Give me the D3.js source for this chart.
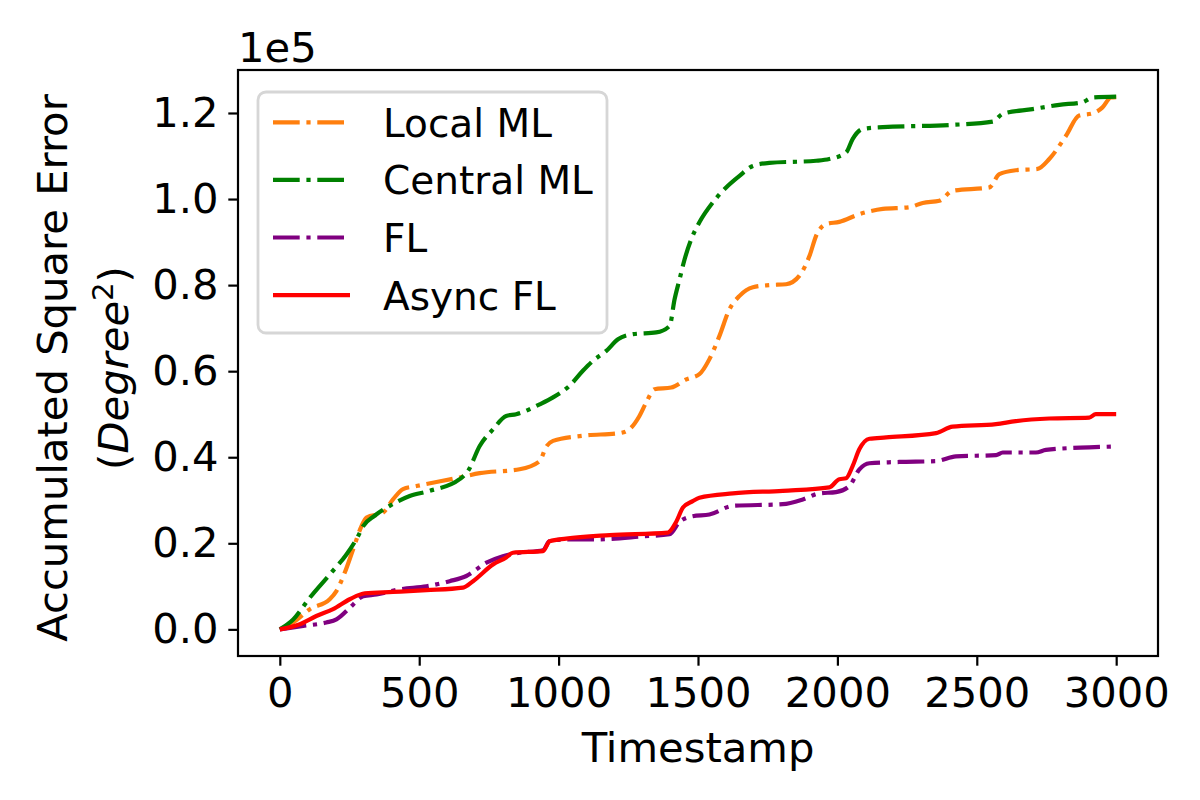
<!DOCTYPE html>
<html>
<head>
<meta charset="utf-8">
<script src="https://cdn.jsdelivr.net/npm/d3@7"></script>
<style>
  body { margin: 0; background: #fff; }
  text { font-family: "DejaVu Sans", sans-serif; }
</style>
</head>
<body>
<div id="chart"></div>
<script>
// legend order
const seriesNames = ["Local ML", "Central ML", "FL", "Async FL"];

// [timestamp, accumulated error in units of 1e5]
const localML = [[0,0],[48,0.016],[108,0.047],[179,0.07],[203,0.089],[233,0.132],[263,0.186],[293,0.24],[311,0.26],[370,0.271],[406,0.302],[442,0.326],[490,0.333],[645,0.353],[717,0.363],[860,0.372],[932,0.391],[956,0.425],[980,0.438],[1087,0.45],[1219,0.456],[1254,0.465],[1290,0.496],[1314,0.527],[1344,0.558],[1404,0.562],[1458,0.581],[1505,0.593],[1541,0.628],[1577,0.682],[1613,0.744],[1649,0.775],[1697,0.795],[1756,0.8],[1816,0.802],[1864,0.822],[1900,0.868],[1924,0.915],[1960,0.942],[2007,0.947],[2079,0.965],[2163,0.977],[2258,0.981],[2306,0.991],[2366,0.996],[2413,1.019],[2545,1.027],[2581,1.058],[2640,1.067],[2718,1.07],[2760,1.093],[2820,1.147],[2867,1.194],[2915,1.199],[2951,1.213],[2981,1.236],[3000,1.237]];

const centralML = [[0,0],[48,0.023],[108,0.074],[185,0.132],[239,0.174],[281,0.217],[299,0.24],[340,0.264],[394,0.287],[466,0.31],[538,0.322],[645,0.349],[675,0.368],[717,0.426],[765,0.465],[812,0.496],[848,0.5],[932,0.523],[980,0.539],[1039,0.566],[1087,0.601],[1123,0.624],[1171,0.647],[1213,0.674],[1267,0.686],[1350,0.69],[1398,0.705],[1416,0.767],[1434,0.814],[1452,0.86],[1476,0.907],[1505,0.946],[1553,0.992],[1601,1.027],[1649,1.054],[1697,1.077],[1756,1.084],[1924,1.089],[1971,1.093],[2031,1.108],[2055,1.14],[2091,1.163],[2163,1.167],[2401,1.172],[2557,1.18],[2593,1.198],[2700,1.209],[2796,1.219],[2879,1.225],[2915,1.236],[3000,1.238]];

const fl = [[0,0],[84,0.008],[167,0.016],[203,0.023],[251,0.05],[299,0.077],[347,0.081],[430,0.093],[526,0.1],[609,0.112],[669,0.124],[741,0.155],[800,0.17],[860,0.178],[944,0.184],[968,0.205],[1027,0.209],[1123,0.209],[1302,0.216],[1398,0.221],[1434,0.25],[1481,0.263],[1541,0.267],[1625,0.287],[1804,0.291],[1876,0.302],[1935,0.316],[1995,0.319],[2043,0.333],[2079,0.372],[2115,0.386],[2222,0.389],[2354,0.391],[2425,0.402],[2569,0.405],[2593,0.411],[2712,0.411],[2748,0.417],[2903,0.423],[3000,0.425]];

const asyncFL = [[0,0],[72,0.012],[131,0.031],[191,0.047],[251,0.07],[305,0.084],[406,0.087],[526,0.091],[657,0.097],[693,0.112],[765,0.151],[812,0.167],[836,0.178],[944,0.182],[968,0.205],[1027,0.211],[1183,0.219],[1392,0.225],[1422,0.25],[1446,0.283],[1481,0.298],[1505,0.306],[1625,0.316],[1804,0.322],[1971,0.33],[2007,0.349],[2031,0.351],[2055,0.38],[2079,0.419],[2115,0.443],[2175,0.446],[2354,0.456],[2413,0.471],[2569,0.477],[2640,0.484],[2760,0.49],[2903,0.492],[2927,0.5],[3000,0.5]];

const xTicks = [0, 500, 1000, 1500, 2000, 2500, 3000];
const yTicks = [0, 0.2, 0.4, 0.6, 0.8, 1.0, 1.2];

// styling per series (same order as seriesNames)
const seriesData = [localML, centralML, fl, asyncFL];
const colors = ["#ff7f0e", "#008000", "#800080", "#ff0000"];
const dashes = ["26.7,6.7,4.2,6.7", "26.7,6.7,4.2,6.7", "26.7,6.7,4.2,6.7", null];

const width = 1200,
  height = 800,
  fontSize = 41.7,
  legendFont = 39;

const svg = d3.select("#chart").append("svg").attr("width", width).attr("height", height);
svg.append("rect").attr("width", width).attr("height", height).attr("fill", "#fff");

// matplotlib-like 5% margins around the data
const x = d3.scaleLinear().domain([-150, 3150]).range([238, 1158]);
const y = d3.scaleLinear().domain([-0.0619, 1.2999]).range([656, 70]);

const line = d3
  .line()
  .x(d => x(d[0]))
  .y(d => y(d[1]))
  .curve(d3.curveMonotoneX);

svg
  .append("g")
  .selectAll("path")
  .data(seriesData)
  .join("path")
  .attr("d", line)
  .attr("fill", "none")
  .attr("stroke", (d, i) => colors[i])
  .attr("stroke-width", 4.2)
  .attr("stroke-dasharray", (d, i) => dashes[i])
  .attr("stroke-linejoin", "round");

// axes
const xAxis = svg
  .append("g")
  .attr("transform", `translate(0,656)`)
  .call(d3.axisBottom(x).tickValues(xTicks).tickFormat(d3.format("d")).tickSize(9.7).tickPadding(11.5));

const yAxis = svg
  .append("g")
  .attr("transform", `translate(238,0)`)
  .call(d3.axisLeft(y).tickValues(yTicks).tickFormat(d3.format(".1f")).tickSize(9.7).tickPadding(9.7));

[xAxis, yAxis].forEach(g => {
  g.select(".domain").remove();
  g.selectAll(".tick line").attr("stroke", "#000").attr("stroke-width", 2.2);
  g.selectAll(".tick text")
    .attr("fill", "#000")
    .style("font-family", "DejaVu Sans")
    .style("font-size", fontSize + "px");
});

// frame
svg
  .append("rect")
  .attr("x", 238)
  .attr("y", 70)
  .attr("width", 920)
  .attr("height", 586)
  .attr("fill", "none")
  .attr("stroke", "#000")
  .attr("stroke-width", 2.2);

// offset text
svg.append("text").attr("x", 238).attr("y", 62).attr("font-size", fontSize).text("1e5");

// axis labels
svg
  .append("text")
  .attr("x", 698)
  .attr("y", 762)
  .attr("text-anchor", "middle")
  .attr("font-size", fontSize)
  .text("Timestamp");

const yLabel = svg
  .append("text")
  .attr("transform", "translate(0,368) rotate(-90)")
  .attr("text-anchor", "middle")
  .attr("font-size", fontSize);
yLabel.append("tspan").attr("x", 0).attr("y", 67).text("Accumulated Square Error");
const l2 = yLabel.append("tspan").attr("x", 0).attr("y", 128);
l2.append("tspan").text("(");
l2.append("tspan").attr("font-style", "italic").text("Degree");
l2.append("tspan").attr("font-size", fontSize * 0.7).attr("dy", -15).text("2");
l2.append("tspan").attr("dy", 15).text(")");

// legend
const legend = svg.append("g");
legend
  .append("rect")
  .attr("x", 258)
  .attr("y", 92)
  .attr("width", 349)
  .attr("height", 241)
  .attr("rx", 8)
  .attr("fill", "#fff")
  .attr("fill-opacity", 0.8)
  .attr("stroke", "#d6d6d6")
  .attr("stroke-width", 2.8);

const items = legend
  .selectAll("g.item")
  .data(seriesNames)
  .join("g")
  .attr("class", "item")
  .attr("transform", (d, i) => `translate(0,${122.3 + i * 57.6})`);

items
  .append("line")
  .attr("x1", 273)
  .attr("x2", 350)
  .attr("stroke", (d, i) => colors[i])
  .attr("stroke-width", 4.2)
  .attr("stroke-dasharray", (d, i) => dashes[i]);

items
  .append("text")
  .attr("x", 383)
  .attr("y", 14.4)
  .attr("font-size", legendFont)
  .text(d => d);
</script>
</body>
</html>
